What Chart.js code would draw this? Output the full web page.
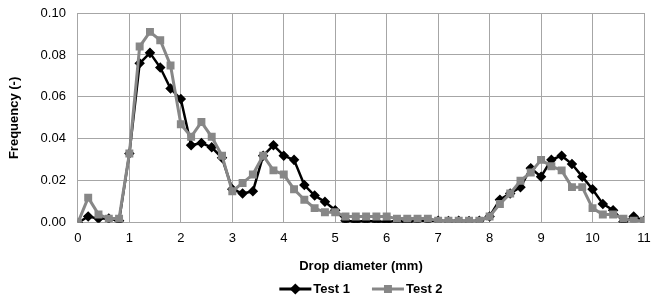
<!DOCTYPE html>
<html lang="en">
<head>
    <meta charset="UTF-8">
    <title>Drop diameter frequency</title>
    <script src="https://cdn.jsdelivr.net/npm/chart.js"></script>
    <style>
        body { margin: 0; background: #fff; }
        .chart-container { width: 659px; height: 300px; }
    </style>
</head>
<body>
    <div class="chart-container">
        <canvas id="dropChart"></canvas>
    </div>

    <script>
        // Drop diameter classes (mm)
        var diameters = [0, 0.2, 0.4, 0.6, 0.8, 1, 1.2, 1.4, 1.6, 1.8,
            2, 2.2, 2.4, 2.6, 2.8, 3, 3.2, 3.4, 3.6, 3.8,
            4, 4.2, 4.4, 4.6, 4.8, 5, 5.2, 5.4, 5.6, 5.8,
            6, 6.2, 6.4, 6.6, 6.8, 7, 7.2, 7.4, 7.6, 7.8,
            8, 8.2, 8.4, 8.6, 8.8, 9, 9.2, 9.4, 9.6, 9.8,
            10, 10.2, 10.4, 10.6, 10.8, 11];

        // Frequency, test 1
        var test1 = [0, 0.003, 0.002, 0.002, 0.001, 0.033, 0.076, 0.081, 0.074, 0.064,
            0.059, 0.037, 0.038, 0.036, 0.031, 0.016, 0.014, 0.015, 0.032, 0.037,
            0.032, 0.030, 0.018, 0.013, 0.010, 0.006, 0.001, 0.0005, 0.0008, 0.0006,
            0.0004, 0.0008, 0.0003, 0.001, 0.001, 0.001, 0.0008, 0.001, 0.0008, 0.001,
            0.003, 0.011, 0.014, 0.017, 0.026, 0.022, 0.030, 0.032, 0.028, 0.022,
            0.016, 0.009, 0.006, 0.0005, 0.003, 0.001];

        // Frequency, test 2
        var test2 = [0, 0.012, 0.004, 0.002, 0.002, 0.033, 0.084, 0.091, 0.087, 0.075,
            0.047, 0.041, 0.048, 0.041, 0.032, 0.015, 0.019, 0.023, 0.032, 0.025,
            0.023, 0.016, 0.011, 0.007, 0.005, 0.005, 0.003, 0.003, 0.003, 0.003,
            0.003, 0.002, 0.002, 0.002, 0.002, 0.001, 0.001, 0.001, 0.001, 0.001,
            0.003, 0.009, 0.014, 0.020, 0.024, 0.030, 0.027, 0.025, 0.017, 0.017,
            0.007, 0.004, 0.004, 0.002, 0.001, 0.001];

        var FONT = '"Liberation Sans", Arial, sans-serif';
        var GRID = '#a6a6a6';

        function toPoints(values) {
            return values.map(function (v, i) { return { x: diameters[i], y: v }; });
        }

        // Excel style legend: line with the marker in the middle
        var legendLine = {
            id: 'legendLine',
            afterDraw: function (chart) {
                var ctx = chart.ctx;
                var sets = chart.data.datasets;
                var lineW = 32, gap = 2, itemGap = 22, y = 289;
                ctx.save();
                ctx.font = 'bold 13px ' + FONT;
                var total = 0;
                sets.forEach(function (ds) { total += lineW + gap + ctx.measureText(ds.label).width; });
                total += itemGap * (sets.length - 1);
                var x = (chart.chartArea.left + chart.chartArea.right) / 2 - total / 2;
                sets.forEach(function (ds) {
                    ctx.strokeStyle = ds.borderColor;
                    ctx.lineWidth = 3;
                    ctx.beginPath();
                    ctx.moveTo(x, y);
                    ctx.lineTo(x + lineW, y);
                    ctx.stroke();
                    Chart.helpers.drawPoint(ctx, {
                        pointStyle: ds.pointStyle,
                        radius: ds.pointRadius,
                        borderWidth: 1,
                        rotation: 0
                    }, x + lineW / 2, y);
                    ctx.fillStyle = ds.pointBackgroundColor;
                    ctx.fill();
                    ctx.fillStyle = '#000';
                    ctx.textBaseline = 'middle';
                    ctx.textAlign = 'left';
                    ctx.fillText(ds.label, x + lineW + gap, y);
                    x += lineW + gap + ctx.measureText(ds.label).width + itemGap;
                });
                ctx.restore();
            }
        };

        var dropChart = new Chart(document.getElementById('dropChart'), {
            type: 'line',
            data: {
                datasets: [{
                    label: 'Test 1',
                    data: toPoints(test1),
                    borderColor: '#000000',
                    backgroundColor: '#000000',
                    pointBackgroundColor: '#000000',
                    pointBorderColor: '#000000',
                    pointStyle: 'rectRot',
                    pointRadius: 3.5,
                    borderWidth: 2.5,
                    order: 1,
                    fill: false
                }, {
                    label: 'Test 2',
                    data: toPoints(test2),
                    borderColor: '#878787',
                    backgroundColor: '#878787',
                    pointBackgroundColor: '#878787',
                    pointBorderColor: '#878787',
                    pointStyle: 'rect',
                    pointRadius: 3.5,
                    borderWidth: 3,
                    order: 0,
                    fill: false
                }]
            },
            options: {
                responsive: true,
                maintainAspectRatio: false,
                animation: false,
                layout: { padding: { left: 3, right: 15, top: 0, bottom: 26 } },
                plugins: {
                    legend: { display: false },
                    tooltip: { enabled: false }
                },
                scales: {
                    x: {
                        type: 'linear',
                        min: 0,
                        max: 11,
                        ticks: { stepSize: 1, padding: 8, color: '#000', font: { family: FONT, size: 13 } },
                        grid: { color: GRID, drawTicks: false },
                        border: { color: GRID },
                        title: {
                            display: true,
                            text: 'Drop diameter (mm)',
                            color: '#000',
                            font: { family: FONT, size: 13, weight: 'bold' },
                            padding: { top: 4, bottom: 0 }
                        }
                    },
                    y: {
                        min: 0,
                        max: 0.1,
                        afterFit: function (scale) { scale.paddingTop = 13; },
                        ticks: {
                            stepSize: 0.02,
                            padding: 12,
                            color: '#000',
                            font: { family: FONT, size: 13 },
                            callback: function (v) { return v.toFixed(2); }
                        },
                        grid: { color: GRID, drawTicks: false },
                        border: { color: GRID },
                        title: {
                            display: true,
                            text: 'Frequency (-)',
                            color: '#000',
                            font: { family: FONT, size: 13, weight: 'bold' },
                            padding: { top: 4, bottom: 6 }
                        }
                    }
                }
            },
            plugins: [legendLine]
        });
    </script>
</body>
</html>
